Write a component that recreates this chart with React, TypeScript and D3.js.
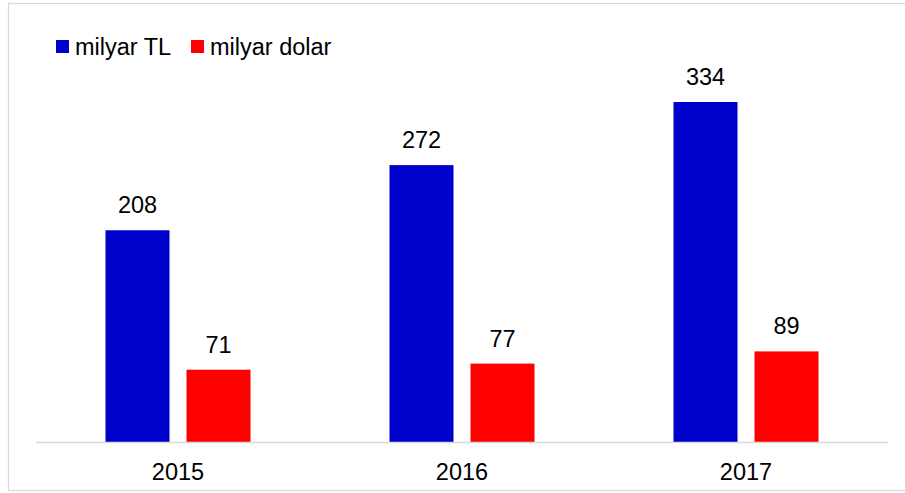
import React from "react";
import * as d3 from "d3";

const categories = ["2015", "2016", "2017"];
const seriesNames = ["milyar TL", "milyar dolar"];
const tlValues = [208, 272, 334];
const dolarValues = [71, 77, 89];
const colors = ["#0000CC", "#FF0000"];

const W = 905;
const H = 493;
const FONT = "'Liberation Sans', Arial, sans-serif";

export default function App() {
  const x0 = d3.scaleBand<string>().domain(categories).range([36, 888]).padding(0);
  const groupW = 145;
  const x1 = d3.scaleBand<string>().domain(seriesNames).range([0, groupW]).paddingInner(17 / 81).paddingOuter(0);
  const y = d3.scaleLinear().domain([0, 334]).range([442, 102]);
  const seriesValues = [tlValues, dolarValues];

  return (
    <svg width={W} height={H} style={{ position: "absolute", left: 0, top: 0, background: "#fff" }} fontFamily={FONT}>
      <rect x={8.5} y={3.5} width={W + 10} height={487} fill="#fff" stroke="#d9d9d9" strokeWidth={1.3} />
      {categories.map((c, i) => {
        const gx = (x0(c) as number) + (x0.bandwidth() - groupW) / 2;
        return (
          <g key={c}>
            {seriesNames.map((s, j) => {
              const v = seriesValues[j][i];
              const bx = gx + (x1(s) as number);
              return (
                <g key={s}>
                  <rect x={bx} y={y(v)} width={x1.bandwidth()} height={y(0) - y(v)} fill={colors[j]} />
                  <text x={bx + x1.bandwidth() / 2} y={y(v) - 17} textAnchor="middle" fontSize={23.5} fill="#000">
                    {v}
                  </text>
                </g>
              );
            })}
            <text x={(x0(c) as number) + x0.bandwidth() / 2} y={480} textAnchor="middle" fontSize={23.5} fill="#000">
              {c}
            </text>
          </g>
        );
      })}
      <line x1={36} x2={888} y1={442.5} y2={442.5} stroke="#d9d9d9" strokeWidth={1.3} />
      {seriesNames.map((s, j) => {
        const lx = [56, 191][j];
        return (
          <g key={s}>
            <rect x={lx} y={40} width={13} height={13} fill={colors[j]} />
            <text x={lx + 19} y={55} fontSize={23.5} fill="#000">
              {s}
            </text>
          </g>
        );
      })}
    </svg>
  );
}
